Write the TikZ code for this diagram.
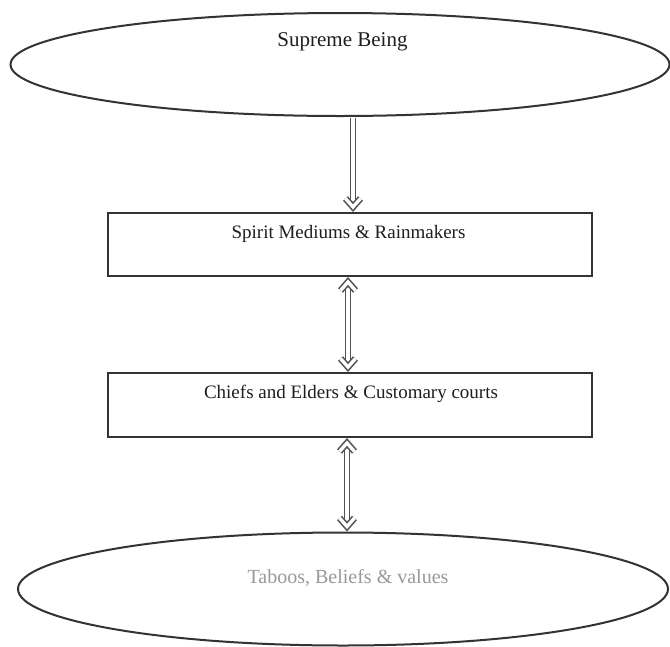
\documentclass[tikz,border=0pt]{standalone}
\usepackage{fontspec}
\setmainfont{Liberation Serif}
\usetikzlibrary{shapes.geometric}
\definecolor{linec}{HTML}{333333}
\definecolor{txtc}{HTML}{1E1E1E}
\definecolor{greytxt}{HTML}{999999}
\begin{document}
\begin{tikzpicture}[x=1pt,y=-1pt,
  oval/.style={draw=linec,line width=2pt,ellipse,inner sep=0pt},
  boxnode/.style={draw=linec,line width=2pt,rectangle,inner sep=0pt,minimum width=484pt,minimum height=63pt},
  lbl/.style={font=\fontsize{19}{23}\selectfont,text=txtc,inner sep=0pt,anchor=base},
  hol/.style={draw=linec!85,line width=6.6pt,line join=miter,line cap=butt,
    postaction={draw=white,line width=3.4pt,line join=miter,line cap=butt}},
  headdown/.pic={\draw[hol] (-7.5,-8.5) -- (0,0) -- (7.5,-8.5);},
  headup/.pic={\draw[hol] (-7.5,8.5) -- (0,0) -- (7.5,8.5);},
]
\useasboundingbox (0,0) rectangle (670,646);
\fill[white] (0,0) rectangle (670,646);
% shapes
\node[oval,minimum width=659pt,minimum height=103pt] (sb) at (340,64.5) {};
\node[boxnode] (smr) at (350,244.5) {};
\node[boxnode,minimum height=64pt] (cec) at (350,405) {};
\node[oval,minimum width=650pt,minimum height=113pt] (tbv) at (343,589) {};
% texts
\node[lbl,font=\fontsize{21}{25}\selectfont] (sbt) at (342.5,46) {Supreme Being};
\node[lbl] (smrt) at (348.5,238) {Spirit Mediums \& Rainmakers};
\node[lbl] (cect) at (351,398) {Chiefs and Elders \& Customary courts};
\node[lbl,font=\fontsize{20}{24}\selectfont,text=greytxt] (tbvt) at (348,583) {Taboos, Beliefs \& values};
% connectors (hollow double-line arrows)
\draw[hol] ([xshift=13pt,yshift=-1pt]sb.south) -- ([xshift=3pt,yshift=6pt]smr.north);
\pic at ([xshift=3pt,yshift=5pt]smr.north) {headdown};
\draw[hol] ([xshift=-2pt,yshift=-6pt]smr.south) -- ([xshift=-2pt,yshift=6pt]cec.north);
\pic at ([xshift=-2pt,yshift=-5pt]smr.south) {headup};
\pic at ([xshift=-2pt,yshift=5pt]cec.north) {headdown};
\draw[hol] ([xshift=-3pt,yshift=-6pt]cec.south) -- ([xshift=4pt,yshift=6pt]tbv.north);
\pic at ([xshift=-3pt,yshift=-5pt]cec.south) {headup};
\pic at ([xshift=-3pt,yshift=5pt]cec.south |- tbv.north) {headdown};
\end{tikzpicture}
\end{document}
